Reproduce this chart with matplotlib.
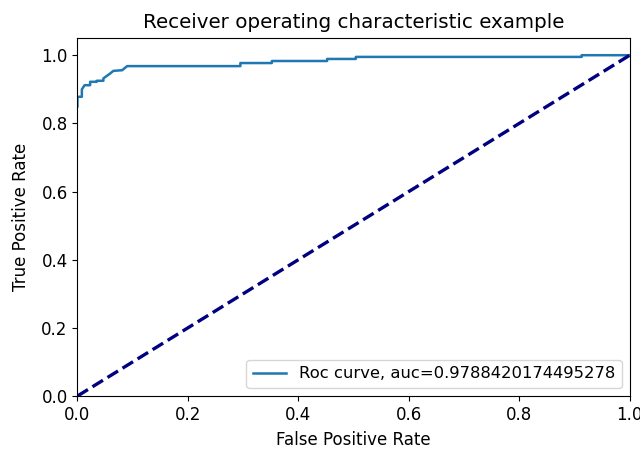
import matplotlib
matplotlib.use("Agg")
import matplotlib.pyplot as plt

# ROC curve corners
fpr = [0.0, 0.0, 0.008, 0.008, 0.013, 0.023, 0.023, 0.035, 0.035, 0.047, 0.047,
       0.059, 0.065, 0.081, 0.09, 0.295, 0.295, 0.352, 0.352, 0.452, 0.452,
       0.504, 0.504, 0.913, 0.913, 1.0]
tpr = [0.85, 0.878, 0.878, 0.9, 0.912, 0.912, 0.922, 0.922, 0.925, 0.925, 0.932,
       0.946, 0.954, 0.956, 0.968, 0.968, 0.977, 0.977, 0.983, 0.983, 0.989,
       0.989, 0.995, 0.995, 1.0, 1.0]
auc = 0.9788420174495278
diag = [0, 1]

plt.rcParams["font.size"] = 12

fig = plt.figure(figsize=(6.4, 4.49), dpi=100)
ax = fig.add_axes([0.121, 0.118, 0.863, 0.797])

ax.plot(fpr, tpr, color="C0", lw=1.8, label="Roc curve, auc=" + str(auc))
ax.plot(diag, diag, color="navy", lw=2.4, linestyle="--")
ax.set_xlim([0.0, 1.0])
ax.set_ylim([0.0, 1.05])
ax.set_xlabel("False Positive Rate", fontsize=12, labelpad=5)
ax.set_ylabel("True Positive Rate", fontsize=12, labelpad=8)
ax.set_title("Receiver operating characteristic example", fontsize=14.3, pad=7)
ax.legend(loc="lower right", fontsize=11.8)

fig.savefig("out.png", dpi=100)
